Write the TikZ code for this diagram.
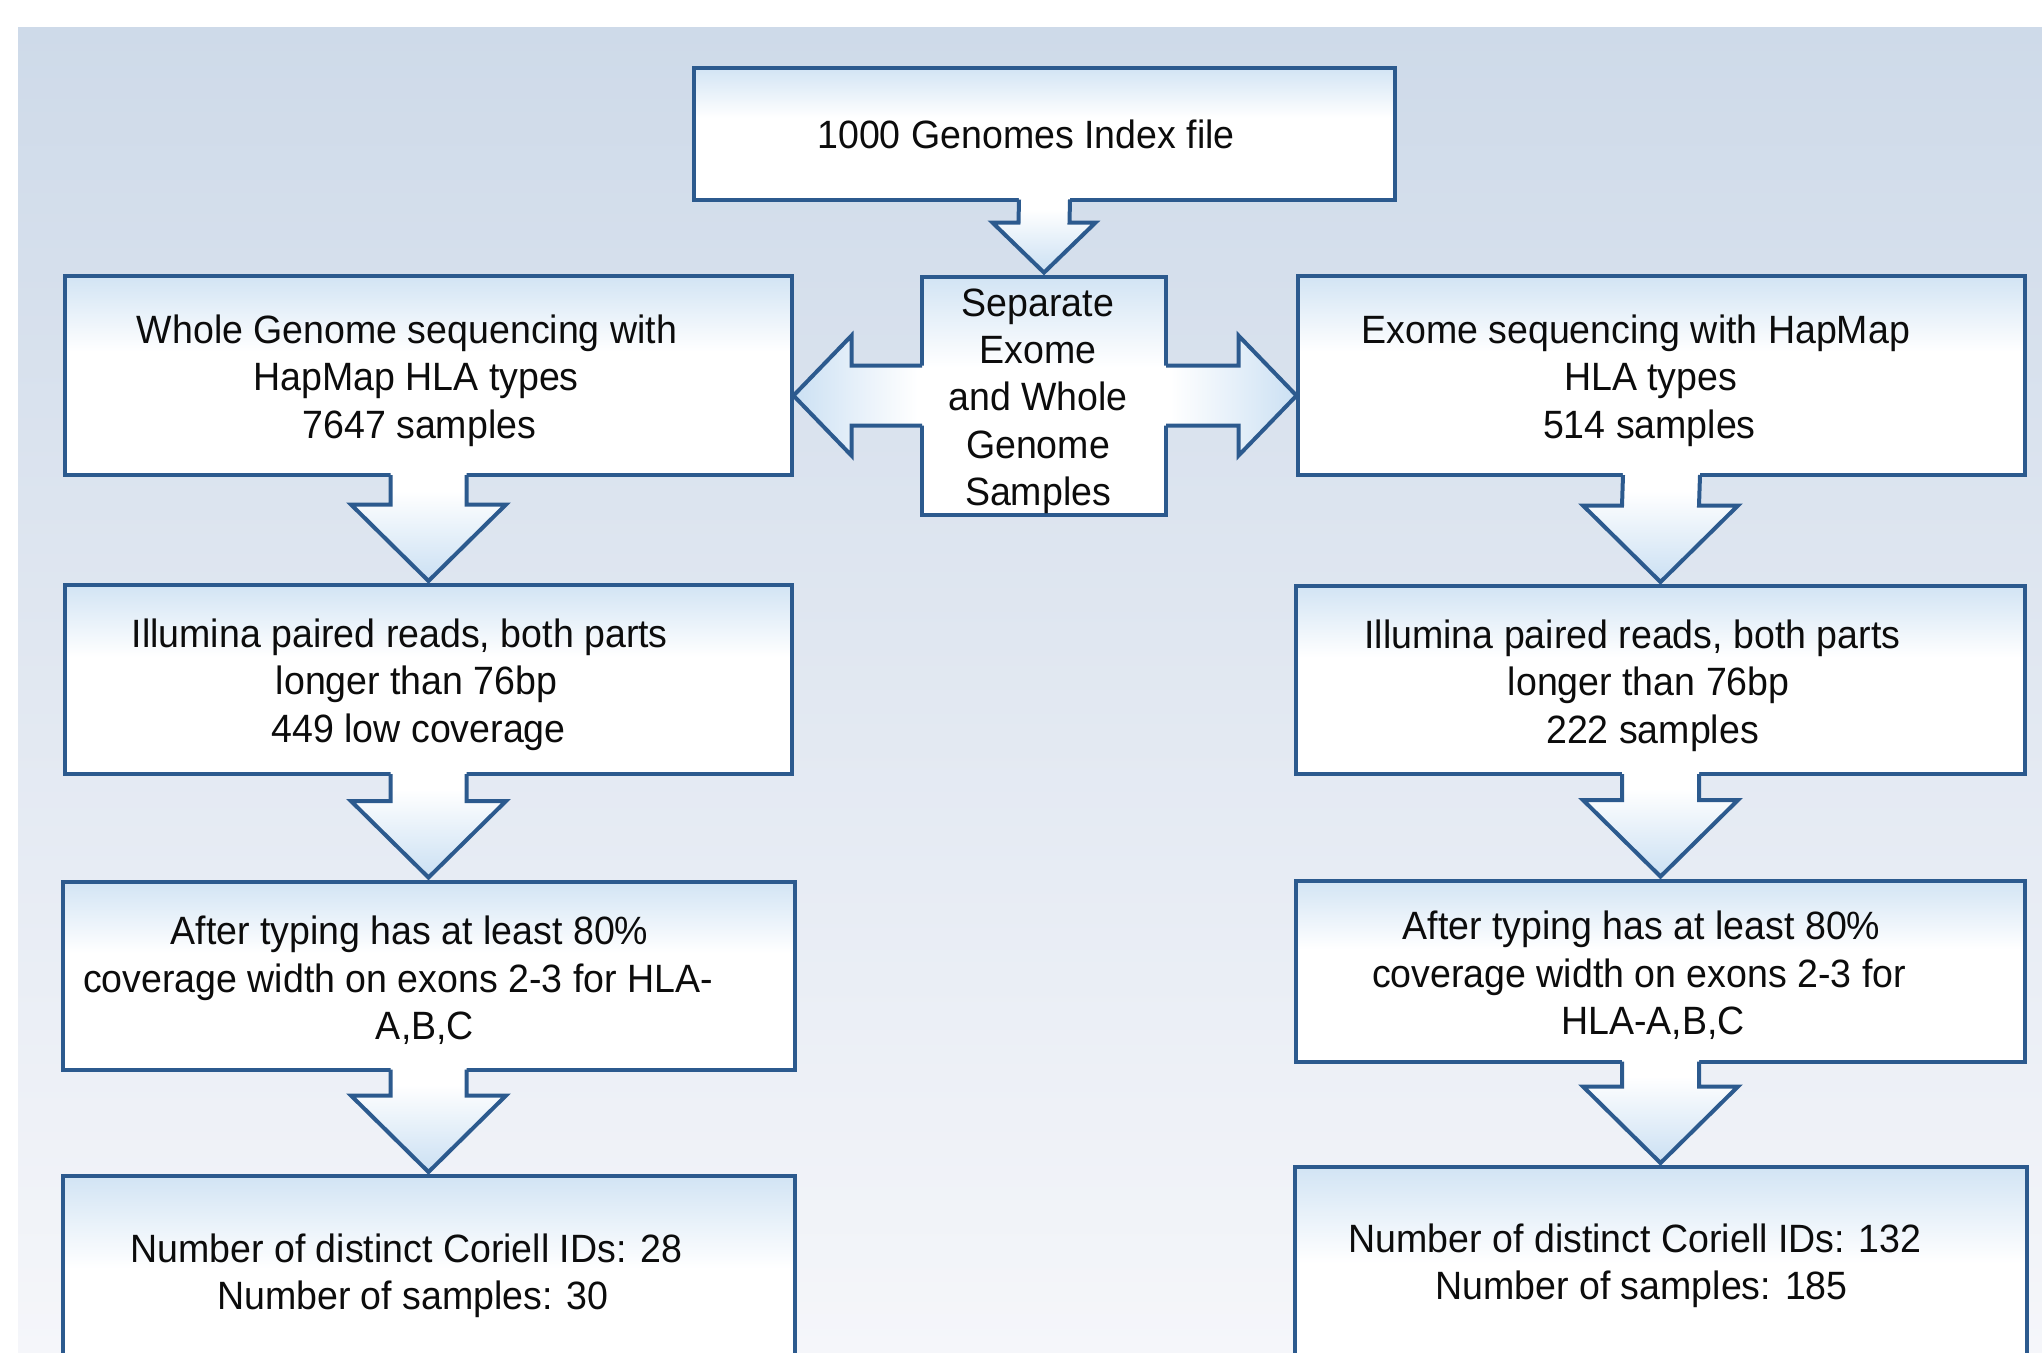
\documentclass[tikz,border=0pt]{standalone}
\usepackage{fontspec}
\setmainfont[FakeStretch=0.95]{Liberation Sans}
\usetikzlibrary{calc}
\definecolor{bgtop}{RGB}{206,218,233}
\definecolor{bgbot}{RGB}{245,246,250}
\definecolor{edge}{RGB}{44,90,142}
\definecolor{boxblue}{RGB}{210,228,244}
\definecolor{arrblue}{RGB}{203,224,243}
\definecolor{ink}{RGB}{12,12,12}
\pgfdeclareverticalshading{boxshade}{100bp}{color(0bp)=(white); color(25bp)=(white); color(56bp)=(white); color(75bp)=(boxblue); color(100bp)=(boxblue)}
\pgfdeclareverticalshading{downshade}{100bp}{color(0bp)=(arrblue); color(25bp)=(arrblue); color(48bp)=(white!55!arrblue); color(66bp)=(white); color(100bp)=(white)}
\pgfdeclarehorizontalshading{leftshade}{100bp}{color(0bp)=(arrblue); color(25bp)=(arrblue); color(50bp)=(white!55!arrblue); color(72bp)=(white); color(100bp)=(white)}
\pgfdeclarehorizontalshading{rightshade}{100bp}{color(0bp)=(white); color(28bp)=(white); color(50bp)=(white!55!arrblue); color(75bp)=(arrblue); color(100bp)=(arrblue)}
\tikzset{
  box/.style={rectangle, draw=edge, line width=4pt, shading=boxshade, inner sep=0pt, outer sep=0pt},
  txt/.style={text=ink, align=center, inner sep=0pt, font=\fontsize{39.5}{47.3}\selectfont},
  arrline/.style={draw=edge, line width=4pt, line join=miter},
}
% #1 source box, #2 target box, #3 stem half width, #4 head half width, #5 head length
\newcommand{\flowdown}[5]{%
  \coordinate (tip-#1) at ($(#2.north)+(0,-4)$);
  \shade[shading=downshade] ($(#1.south)+(-#3,-4)$) -- ($(tip-#1)+(-#3,-#5)$) -- ($(tip-#1)+(-#4,-#5)$) -- (tip-#1) -- ($(tip-#1)+(#4,-#5)$) -- ($(tip-#1)+(#3,-#5)$) -- ($(#1.south)+(#3,-4)$) -- cycle;
  \draw[arrline] ($(#1.south)+(-#3,0)$) -- ($(tip-#1)+(-#3,-#5)$) -- ($(tip-#1)+(-#4,-#5)$) -- (tip-#1) -- ($(tip-#1)+(#4,-#5)$) -- ($(tip-#1)+(#3,-#5)$) -- ($(#1.south)+(#3,0)$);
}
% trailing space that shifts a centred line to the left
\newcommand{\trail}[1]{\kern#1pt}
\begin{document}
\begin{tikzpicture}[x=1pt, y=-1pt]
\useasboundingbox (0,0) rectangle (2042,1352);
\clip (0,0) rectangle (2042,1352);
\fill[white] (0,0) rectangle (2042,1352);
\shade[top color=bgtop, bottom color=bgbot] (18,27) rectangle (2042,1352);

% boxes
\node[box, minimum width=701, minimum height=132] (top) at (1044.5,133.5) {};
\node[box, minimum width=244, minimum height=238] (sep) at (1044,395.6) {};
\node[box, minimum width=727, minimum height=199] (L1) at (428.5,375.5) {};
\node[box, minimum width=727, minimum height=199] (R1) at (1661.5,375.5) {};
\node[box, minimum width=727, minimum height=189] (L2) at (428.5,679.5) {};
\node[box, minimum width=729, minimum height=188] (R2) at (1660.5,680) {};
\node[box, minimum width=732, minimum height=188] (L3) at (428.5,975.5) {};
\node[box, minimum width=729, minimum height=181] (R3) at (1660.5,971) {};
\node[box, minimum width=732, minimum height=244] (L4) at (428.5,1298) {};
\node[box, minimum width=732, minimum height=253] (R4) at (1660.5,1293.5) {};

% down arrows
\flowdown{top}{sep}{25.5}{51.5}{50}
\flowdown{L1}{L2}{38}{77.5}{76.5}
\flowdown{L2}{L3}{38}{77.5}{76.5}
\flowdown{L3}{L4}{38}{77.5}{76.5}
\flowdown{R1}{R2}{38.5}{77.5}{76.5}
\flowdown{R2}{R3}{38.5}{77.5}{76.5}
\flowdown{R3}{R4}{38.5}{77.5}{76.5}

% side arrows
\coordinate (tipL) at ($(L1.east |- sep.west)+(1.5,0)$);
\coordinate (tipR) at ($(R1.west |- sep.east)+(-1.5,0)$);
\shade[shading=leftshade] ($(sep.west)+(4,-30)$) -- ($(tipL)+(58,-30)$) -- ($(tipL)+(58,-60)$) -- (tipL) -- ($(tipL)+(58,60)$) -- ($(tipL)+(58,30)$) -- ($(sep.west)+(4,30)$) -- cycle;
\draw[arrline] ($(sep.west)+(0,-30)$) -- ($(tipL)+(58,-30)$) -- ($(tipL)+(58,-60)$) -- (tipL) -- ($(tipL)+(58,60)$) -- ($(tipL)+(58,30)$) -- ($(sep.west)+(0,30)$);
\shade[shading=rightshade] ($(sep.east)+(-4,-30)$) -- ($(tipR)+(-58,-30)$) -- ($(tipR)+(-58,-60)$) -- (tipR) -- ($(tipR)+(-58,60)$) -- ($(tipR)+(-58,30)$) -- ($(sep.east)+(-4,30)$) -- cycle;
\draw[arrline] ($(sep.east)+(0,-30)$) -- ($(tipR)+(-58,-30)$) -- ($(tipR)+(-58,-60)$) -- (tipR) -- ($(tipR)+(-58,60)$) -- ($(tipR)+(-58,30)$) -- ($(sep.east)+(0,30)$);

% texts
\node[txt] (t0) at (1026,134) {1000 Genomes Index file};
\node[txt] (ts) at (1038,401) {Separate\\Exome\\and Whole\\Genome\\Samples};
\node[txt] (tl1) at (419.3,380.5) {Whole Genome sequencing with\trail{24.6}\\HapMap HLA types\trail{6.4}\\7647 samples};
\node[txt] (tr1) at (1650.7,380.5) {Exome sequencing with HapMap\trail{30}\\HLA types\\514 samples\trail{2.6}};
\node[txt] (tl2) at (418.7,684.5) {Illumina paired reads, both parts\trail{37.8}\\longer than 76bp\trail{4}\\449 low coverage};
\node[txt] (tr2) at (1652.6,685.5) {Illumina paired reads, both parts\trail{40.4}\\longer than 76bp\trail{7.8}\\222 samples};
\node[txt] (tl3) at (425,980.5) {After typing has at least 80\%\trail{31}\\coverage width on exons 2-3 for HLA-\trail{54}\\A,B,C};
\node[txt] (tr3) at (1653,975.5) {After typing has at least 80\%\trail{23}\\coverage width on exons 2-3 for\trail{28}\\HLA-A,B,C};
\node[txt] (tl4) at (412.8,1275.5) {Number of distinct Coriell IDs: 28\trail{13}\\Number of samples: 30};
\node[txt] (tr4) at (1641.5,1265.5) {Number of distinct Coriell IDs: 132\trail{13}\\Number of samples: 185};
\end{tikzpicture}
\end{document}
